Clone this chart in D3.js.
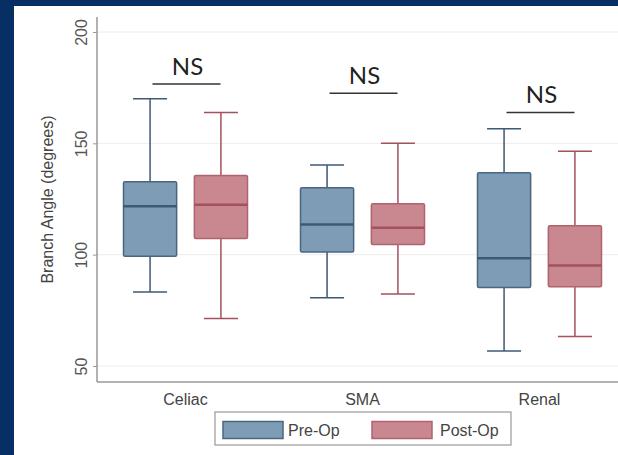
<!DOCTYPE html>
<html>
<head>
<meta charset="utf-8">
<script src="https://cdn.jsdelivr.net/npm/d3@7"></script>
<style>
  html, body { margin: 0; padding: 0; background: #062f63; }
  svg { display: block; }
</style>
</head>
<body>
<svg id="chart" width="618" height="455"></svg>
<script>
// chart data
const categories = ["Celiac", "SMA", "Renal"];
const groups = ["Pre-Op", "Post-Op"];
// [lower whisker, q1, median, q3, upper whisker] per category
const preOp = [
  [83.2, 99.3, 121.7, 132.8, 170.0],
  [80.7, 101.2, 113.6, 130.1, 140.3],
  [56.7, 85.2, 98.4, 136.8, 156.6]
];
const postOp = [
  [71.3, 107.3, 122.4, 135.6, 163.8],
  [82.3, 104.6, 112.1, 122.9, 150.0],
  [63.2, 85.6, 95.1, 113.0, 146.4]
];
const nsLevels = [176.6, 172.5, 163.9];
const nsLabels = ["NS", "NS", "NS"];
const yTicks = [50, 100, 150, 200];

const colors = {
  "Pre-Op": { fill: "#7f9cb7", stroke: "#4a6580", line: "#3f5874" },
  "Post-Op": { fill: "#c98790", stroke: "#b0636f", line: "#a4505e" }
};
const font = "Arial, 'Liberation Sans', sans-serif";

const svg = d3.select("#chart");

// white panel on the navy background
svg.append("rect")
  .attr("x", 14).attr("y", 6)
  .attr("width", 618 - 14).attr("height", 455 - 6)
  .attr("fill", "#ffffff");

const axisLeft = 97, axisBottom = 382, axisTop = 17;

const y = d3.scaleLinear()
  .domain([50, 200])
  .range([366, 32]);

// category bands (the plot runs past the right edge of the picture)
const x = d3.scaleBand()
  .domain(categories)
  .range([axisLeft, axisLeft + 3 * 177]);

const xSub = d3.scaleBand()
  .domain(groups)
  .range([-62, 62])
  .paddingInner(0.25);

// grid lines
svg.append("g")
  .selectAll("line")
  .data(yTicks)
  .enter()
  .append("line")
  .attr("x1", axisLeft).attr("x2", 618)
  .attr("y1", d => y(d)).attr("y2", d => y(d))
  .attr("stroke", "#ededed")
  .attr("stroke-width", 1);

// y axis
const yAxis = svg.append("g")
  .attr("transform", "translate(" + axisLeft + ",0)")
  .call(d3.axisLeft(y).tickValues(yTicks).tickSize(4).tickPadding(0).tickFormat(d3.format("d")));
yAxis.select(".domain").remove();
yAxis.selectAll(".tick line").attr("stroke", "#999");
yAxis.selectAll(".tick text")
  .attr("x", 0)
  .attr("transform", "translate(-16,0) rotate(-90)")
  .attr("text-anchor", "middle")
  .attr("dy", "0.35em")
  .style("font-family", font)
  .style("font-size", "16px")
  .attr("fill", "#555");

svg.append("line")
  .attr("x1", axisLeft).attr("x2", axisLeft)
  .attr("y1", axisTop).attr("y2", axisBottom)
  .attr("stroke", "#999").attr("stroke-width", 1.5);

// x axis
const xAxis = svg.append("g")
  .attr("transform", "translate(0," + axisBottom + ")")
  .call(d3.axisBottom(x).tickSize(0).tickPadding(12));
xAxis.select(".domain").remove();
xAxis.selectAll(".tick text")
  .style("font-family", font)
  .style("font-size", "16px")
  .attr("fill", "#444");

svg.append("line")
  .attr("x1", axisLeft).attr("x2", 618)
  .attr("y1", axisBottom).attr("y2", axisBottom)
  .attr("stroke", "#999").attr("stroke-width", 1.5);

// axis title
svg.append("text")
  .attr("transform", "translate(47," + ((axisTop + axisBottom) / 2) + ") rotate(-90)")
  .attr("text-anchor", "middle")
  .attr("dy", "0.35em")
  .style("font-family", font)
  .style("font-size", "16px")
  .attr("fill", "#444")
  .text("Branch Angle (degrees)");

// boxes
const boxData = [];
categories.forEach((c, i) => {
  boxData.push({ cat: c, grp: "Pre-Op", s: preOp[i] });
  boxData.push({ cat: c, grp: "Post-Op", s: postOp[i] });
});

const boxW = xSub.bandwidth();
const capW = boxW * 0.64;

const box = svg.append("g")
  .selectAll("g")
  .data(boxData)
  .enter()
  .append("g")
  .attr("transform", d => "translate(" + (x(d.cat) + x.bandwidth() / 2 + xSub(d.grp)) + ",0)");

// whiskers
box.append("line")
  .attr("x1", boxW / 2).attr("x2", boxW / 2)
  .attr("y1", d => y(d.s[0])).attr("y2", d => y(d.s[4]))
  .attr("stroke", d => colors[d.grp].line).attr("stroke-width", 1.5);

box.append("line")
  .attr("x1", (boxW - capW) / 2).attr("x2", (boxW + capW) / 2)
  .attr("y1", d => y(d.s[4])).attr("y2", d => y(d.s[4]))
  .attr("stroke", d => colors[d.grp].line).attr("stroke-width", 1.5);

box.append("line")
  .attr("x1", (boxW - capW) / 2).attr("x2", (boxW + capW) / 2)
  .attr("y1", d => y(d.s[0])).attr("y2", d => y(d.s[0]))
  .attr("stroke", d => colors[d.grp].line).attr("stroke-width", 1.5);

box.append("rect")
  .attr("x", 0)
  .attr("y", d => y(d.s[3]))
  .attr("width", boxW)
  .attr("height", d => y(d.s[1]) - y(d.s[3]))
  .attr("rx", 1.5)
  .attr("fill", d => colors[d.grp].fill)
  .attr("stroke", d => colors[d.grp].stroke)
  .attr("stroke-width", 1.5);

box.append("line")
  .attr("x1", 0).attr("x2", boxW)
  .attr("y1", d => y(d.s[2])).attr("y2", d => y(d.s[2]))
  .attr("stroke", d => colors[d.grp].line).attr("stroke-width", 2.5);

// NS annotations
const ns = svg.append("g")
  .selectAll("g")
  .data(categories)
  .enter()
  .append("g");

ns.append("line")
  .attr("x1", d => x(d) + x.bandwidth() / 2 - 33)
  .attr("x2", d => x(d) + x.bandwidth() / 2 + 35)
  .attr("y1", (d, i) => y(nsLevels[i]))
  .attr("y2", (d, i) => y(nsLevels[i]))
  .attr("stroke", "#333").attr("stroke-width", 1.5);

ns.append("text")
  .attr("x", d => x(d) + x.bandwidth() / 2 + 2)
  .attr("y", (d, i) => y(nsLevels[i]) - 9)
  .attr("text-anchor", "middle")
  .style("font-family", "Lato, 'Open Sans', sans-serif")
  .style("font-size", "24px")
  .attr("fill", "#222")
  .text((d, i) => nsLabels[i]);

// legend
const legend = svg.append("g").attr("transform", "translate(215,412)");
legend.append("rect")
  .attr("width", 296).attr("height", 33)
  .attr("fill", "#fff")
  .attr("stroke", "#999").attr("stroke-width", 1.2);

const legItems = [
  { grp: "Pre-Op", sx: 8, tx: 73 },
  { grp: "Post-Op", sx: 157, tx: 225 }
];
const li = legend.selectAll(".item")
  .data(legItems)
  .enter()
  .append("g");
li.append("rect")
  .attr("x", d => d.sx).attr("y", 9.5)
  .attr("width", 60).attr("height", 17)
  .attr("fill", d => colors[d.grp].fill)
  .attr("stroke", d => colors[d.grp].stroke)
  .attr("stroke-width", 1.5);
li.append("text")
  .attr("x", d => d.tx).attr("y", 18)
  .attr("dy", "0.35em")
  .style("font-family", font)
  .style("font-size", "16px")
  .attr("fill", "#444")
  .text(d => d.grp);
</script>
</body>
</html>
